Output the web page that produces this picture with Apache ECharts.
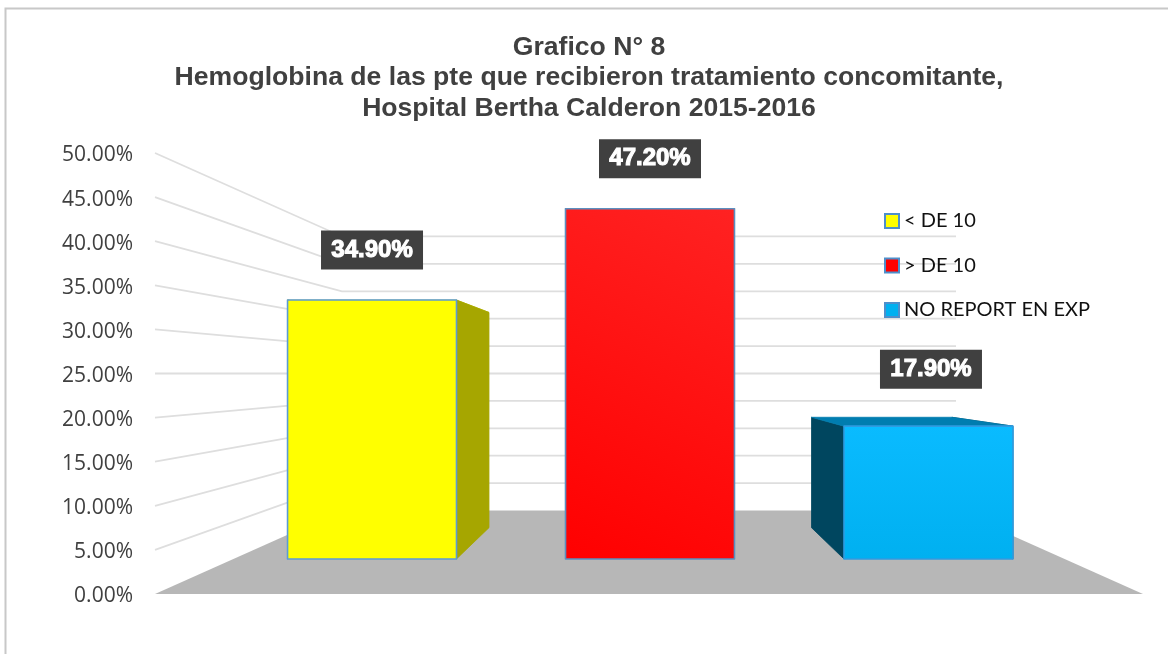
<!DOCTYPE html>
<html>
<head>
<meta charset="utf-8">
<style>html,body{margin:0;padding:0;background:#fff}#c{width:1168px;height:654px}</style>
<script src="https://cdn.jsdelivr.net/npm/echarts@6/dist/echarts.min.js"></script>
</head>
<body>
<div id="c"></div>
<script>
const titleLines = ['Grafico N° 8', 'Hemoglobina de las pte que recibieron tratamiento concomitante,', 'Hospital Bertha Calderon 2015-2016'];
const categories = ['< DE 10', '> DE 10', 'NO REPORT EN EXP'];
const values = [34.9, 47.2, 17.9];
const yTicks = [0, 5, 10, 15, 20, 25, 30, 35, 40, 45, 50];
const valueLabels = ['34.90%', '47.20%', '17.90%'];

// Perspective of the 3-D scene: everything is computed on the front plane with the
// axis scales, then pulled towards a vanishing point on the 25 % level.
const VANISH_VALUE = 25, SHRINK = 0.3785;
const BAR_FRONT = 0.42, BAR_BACK = 0.795, BAR_BAND = 0.61;
const looks = [
  {front: '#FFFF00', side: '#A6A600', top: '#C8C800', stroke: '#5B9BD5', lift: 50, nudge: 0, labelNudge: 0},
  {front: {type: 'linear', x: 0, y: 1, x2: 1, y2: 0, colorStops: [{offset: 0, color: '#FF0000'}, {offset: 1, color: '#FF2222'}]},
   side: '#A60000', top: '#C80000', stroke: '#5B8FC0', lift: 50, nudge: 1, labelNudge: 0},
  {front: {type: 'linear', x: 0, y: 0, x2: 0, y2: 1, colorStops: [{offset: 0, color: '#0ABBFF'}, {offset: 1, color: '#00B0F0'}]},
   side: '#00465F', top: '#007DB0', stroke: '#2F9BE0', lift: 57, nudge: 2.5, labelNudge: 2.5}
];
const legendColors = ['#FFFF00', '#FF0000', '#00B0F0'];

function projector(api) {
  const band = api.size([1, 0])[0];
  const plot = api.coord([0, VANISH_VALUE]);
  const cs = api.coord([1, VANISH_VALUE]); // centre category sits on the vanishing column
  const vx = cs[0], vy = plot[1];
  return {
    band,
    at(x, y, depth) {
      const s = 1 - SHRINK * depth;
      return [vx + (x - vx) * s, vy + (y - vy) * s];
    }
  };
}

function renderFloor(params, api) {
  const P = projector(api);
  const base = api.coord([0, 0])[1];
  const cx = api.coord([1, 0])[0];
  const half = P.band * 1.5;
  return {
    type: 'polygon',
    shape: {points: [P.at(cx - half, base, 0), P.at(cx + half, base, 0), P.at(cx + half, base, 1), P.at(cx - half, base, 1)]},
    style: {fill: '#B7B7B7'},
    silent: true
  };
}

function renderGrid(params, api) {
  const P = projector(api);
  const y = api.coord([0, api.value(0)])[1];
  const cx = api.coord([1, 0])[0];
  const half = P.band * 1.5;
  return {
    type: 'polyline',
    shape: {points: [P.at(cx - half, y, 0), P.at(cx - half, y, 1), P.at(cx + half, y, 1)]},
    style: {fill: 'none', stroke: '#DEDEDE', lineWidth: 1.8},
    silent: true
  };
}

function renderBar(idx) {
  return function (params, api) {
    const P = projector(api);
    const look = looks[idx];
    const c = api.coord([api.value(0), api.value(1)]);
    const base = api.coord([api.value(0), 0])[1];
    const w = P.band * BAR_BAND / 2;
    const L = c[0] - w, R = c[0] + w, T = c[1];
    const n = (p) => [p[0] + look.nudge, p[1]];
    const A = n(P.at(L, T, BAR_FRONT)), B = n(P.at(R, T, BAR_FRONT)), C = n(P.at(R, base, BAR_FRONT)), D = n(P.at(L, base, BAR_FRONT));
    const E = n(P.at(L, T, BAR_BACK)), F = n(P.at(R, T, BAR_BACK)), G = n(P.at(R, base, BAR_BACK)), H = n(P.at(L, base, BAR_BACK));
    const face = (pts, fill) => ({type: 'polygon', shape: {points: pts}, style: {fill: fill, stroke: fill, lineWidth: 0.8, lineJoin: 'round'}});
    const sides = [face([E, A, D, H], look.side), face([B, F, G, C], look.side)];
    const top = face([E, F, B, A], look.top);
    // The top is seen only when the bar ends below the eye level.
    const shell = F[1] > B[1] ? [top].concat(sides) : sides.concat([top]);
    return {
      type: 'group',
      children: shell.concat([
        {type: 'polygon', shape: {points: [A, B, C, D]}, style: {fill: look.front, stroke: look.stroke, lineWidth: 1.6, lineJoin: 'round'}},
        {
          type: 'text',
          x: (A[0] + B[0]) / 2 + look.labelNudge,
          y: A[1] - look.lift,
          style: {
            text: valueLabels[idx],
            fill: '#fff',
            stroke: '#fff',
            lineWidth: 1.1,
            font: 'bold 24px "Liberation Sans"',
            align: 'center',
            verticalAlign: 'middle',
            backgroundColor: '#404040',
            width: 102,
            height: 39,
            lineHeight: 39
          },
          z2: 20
        }
      ])
    };
  };
}

const barSeries = categories.map((name, i) => ({
  name: name,
  type: 'custom',
  z: 5,
  coordinateSystem: 'cartesian2d',
  encode: {x: 0, y: 1},
  itemStyle: {color: legendColors[i], borderColor: '#4E8FCB', borderWidth: 1.5},
  data: [[i, values[i]]],
  renderItem: renderBar(i)
}));

const chart = echarts.init(document.getElementById('c'), null, {renderer: 'canvas'});
chart.setOption({
  animation: false,
  backgroundColor: '#fff',
  title: {
    text: titleLines.join('\n'),
    left: 584,
    top: 27,
    textAlign: 'center',
    textStyle: {fontFamily: '"Liberation Sans"', fontWeight: 'bold', fontSize: 26.6, lineHeight: 30.5, color: '#404040'}
  },
  legend: {
    data: categories,
    orient: 'vertical',
    left: 879,
    top: 205,
    itemWidth: 14,
    itemHeight: 14,
    itemGap: 22.5,
    icon: 'rect',
    textStyle: {fontFamily: 'Lato', fontSize: 20, color: '#111', lineHeight: 22},
    selectedMode: false
  },
  grid: {left: 155, right: 25, top: 153, bottom: 60, containLabel: false},
  xAxis: {type: 'category', data: categories, boundaryGap: true, axisLabel: {show: false}, axisLine: {show: false}, axisTick: {show: false}, splitLine: {show: false}},
  yAxis: {
    type: 'value',
    min: 0,
    max: 50,
    interval: 5,
    axisLine: {show: false},
    axisTick: {show: false},
    splitLine: {show: false},
    axisLabel: {margin: 22, color: '#404040', fontFamily: '"Open Sans"', fontSize: 21, verticalAlign: 'top', lineHeight: 5, formatter: v => v.toFixed(2) + '%'}
  },
  graphic: [{
    type: 'polyline',
    silent: true,
    z: -1,
    shape: {points: [[5.5, 654], [5.5, 8.5], [1168, 8.5]]},
    style: {fill: 'none', stroke: '#C8C8C8', lineWidth: 2}
  }],
  series: [
    {name: 'piso', type: 'custom', z: 1, coordinateSystem: 'cartesian2d', encode: {x: 0, y: 1}, data: [[0, 0]], renderItem: renderFloor, silent: true},
    {name: 'rejilla', type: 'custom', z: 2, coordinateSystem: 'cartesian2d', encode: {y: 0}, data: yTicks.slice(1).map(v => [v]), renderItem: renderGrid, silent: true}
  ].concat(barSeries)
});
</script>
</body>
</html>
